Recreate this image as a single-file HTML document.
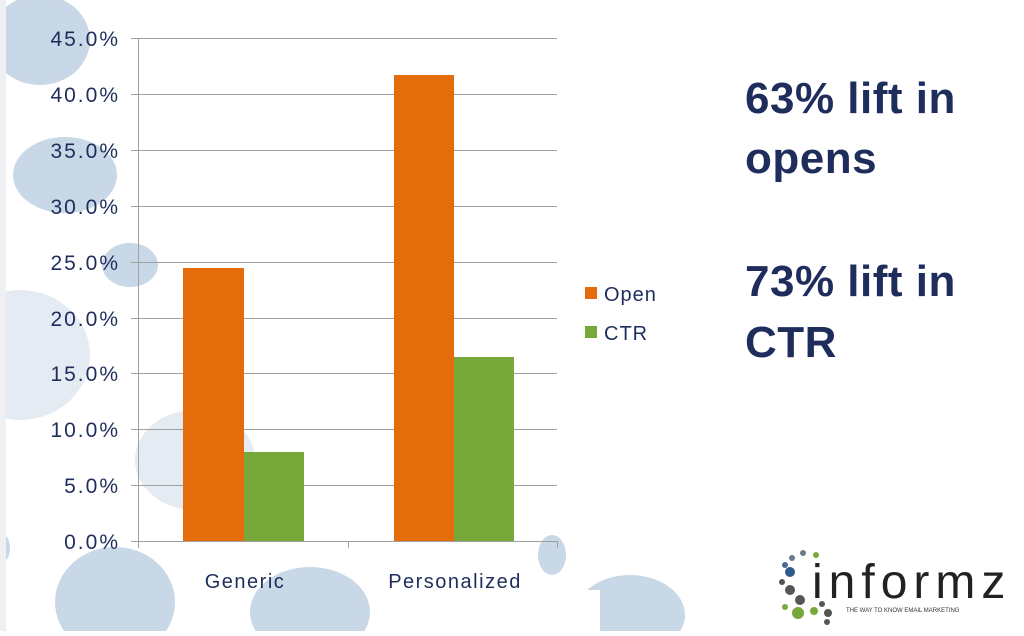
<!DOCTYPE html>
<html><head><meta charset="utf-8"><style>
body{margin:0;width:1024px;height:631px;overflow:hidden;background:#fff;font-family:"Liberation Sans","DejaVu Sans",sans-serif}
</style></head><body>
<svg width="1024" height="631" xmlns="http://www.w3.org/2000/svg">
<rect width="1024" height="631" fill="#fff"/>
<g fill="#c9d8e6">
<ellipse cx="40" cy="40" rx="50" ry="45"/>
<ellipse cx="65" cy="175" rx="52" ry="38"/>
<ellipse cx="130" cy="265" rx="28" ry="22"/>
<ellipse cx="115" cy="602" rx="60" ry="55"/>
<ellipse cx="310" cy="612" rx="60" ry="45"/>
<ellipse cx="552" cy="555" rx="14" ry="20"/>
<ellipse cx="630" cy="615" rx="55" ry="40"/>
<ellipse cx="2" cy="548" rx="8" ry="14"/>
</g>
<g fill="#e4ebf3">
<ellipse cx="20" cy="355" rx="70" ry="65"/>
<ellipse cx="195" cy="460" rx="60" ry="50"/>
</g>
<rect x="0" y="0" width="6" height="631" fill="#eef0f3"/>
<rect x="420" y="590" width="180" height="41" fill="#fff"/>
<g stroke="#a0a0a0" stroke-width="1">
<line x1="131" y1="38.5" x2="557" y2="38.5"/>
<line x1="131" y1="94.5" x2="557" y2="94.5"/>
<line x1="131" y1="150.5" x2="557" y2="150.5"/>
<line x1="131" y1="206.5" x2="557" y2="206.5"/>
<line x1="131" y1="262.5" x2="557" y2="262.5"/>
<line x1="131" y1="318.5" x2="557" y2="318.5"/>
<line x1="131" y1="373.5" x2="557" y2="373.5"/>
<line x1="131" y1="429.5" x2="557" y2="429.5"/>
<line x1="131" y1="485.5" x2="557" y2="485.5"/>
<line x1="131" y1="541.5" x2="557" y2="541.5"/>
<line x1="138.5" y1="38" x2="138.5" y2="548"/>
<line x1="348.5" y1="541" x2="348.5" y2="548"/>
<line x1="557.5" y1="541" x2="557.5" y2="548"/>
</g>
<rect x="183" y="268" width="61" height="273" fill="#e46c0a"/>
<rect x="244" y="452" width="60" height="89" fill="#77a83a"/>
<rect x="394" y="75" width="60" height="466" fill="#e46c0a"/>
<rect x="454" y="357" width="60" height="184" fill="#77a83a"/>
<g font-size="21" fill="#1f2d5c" text-anchor="end" letter-spacing="2">
<text x="120" y="46">45.0%</text><text x="120" y="102">40.0%</text><text x="120" y="158">35.0%</text>
<text x="120" y="214">30.0%</text><text x="120" y="270">25.0%</text><text x="120" y="326">20.0%</text>
<text x="120" y="381">15.0%</text><text x="120" y="437">10.0%</text><text x="120" y="493">5.0%</text>
<text x="120" y="549">0.0%</text>
</g>
<g font-size="20" fill="#1f2d5c" text-anchor="middle" letter-spacing="1.5">
<text x="245" y="588">Generic</text><text x="455" y="588">Personalized</text>
</g>
<rect x="585" y="287" width="12" height="12" fill="#e46c0a"/>
<rect x="585" y="326" width="12" height="12" fill="#77a83a"/>
<g font-size="20" fill="#1f2d5c" letter-spacing="1"><text x="604" y="301">Open</text><text x="604" y="340">CTR</text></g>
<g font-size="44" font-weight="bold" fill="#1f2d5c" letter-spacing="0.5">
<text x="745" y="113">63% lift in</text><text x="745" y="173">opens</text>
<text x="745" y="296">73% lift in</text><text x="745" y="357">CTR</text>
</g>
<g>
<circle cx="792" cy="558" r="3" fill="#6b7a8a"/><circle cx="803" cy="553" r="3" fill="#6b7a8a"/>
<circle cx="816" cy="555" r="3" fill="#77a83a"/><circle cx="785" cy="565" r="3" fill="#4a6a9a"/>
<circle cx="790" cy="572" r="5" fill="#2d5a8a"/><circle cx="782" cy="582" r="3" fill="#555"/>
<circle cx="790" cy="590" r="5" fill="#555"/><circle cx="800" cy="600" r="5" fill="#555"/>
<circle cx="785" cy="607" r="3" fill="#77a83a"/><circle cx="798" cy="613" r="6" fill="#77a83a"/>
<circle cx="814" cy="611" r="4" fill="#77a83a"/><circle cx="822" cy="604" r="3" fill="#555"/>
<circle cx="828" cy="613" r="4" fill="#555"/><circle cx="827" cy="622" r="3" fill="#555"/>
</g>
<text x="812" y="598" font-size="48" fill="#222" letter-spacing="6">informz</text>
<text x="846" y="612" font-size="6" fill="#333">THE WAY TO KNOW EMAIL MARKETING</text>
</svg>
</body></html>
